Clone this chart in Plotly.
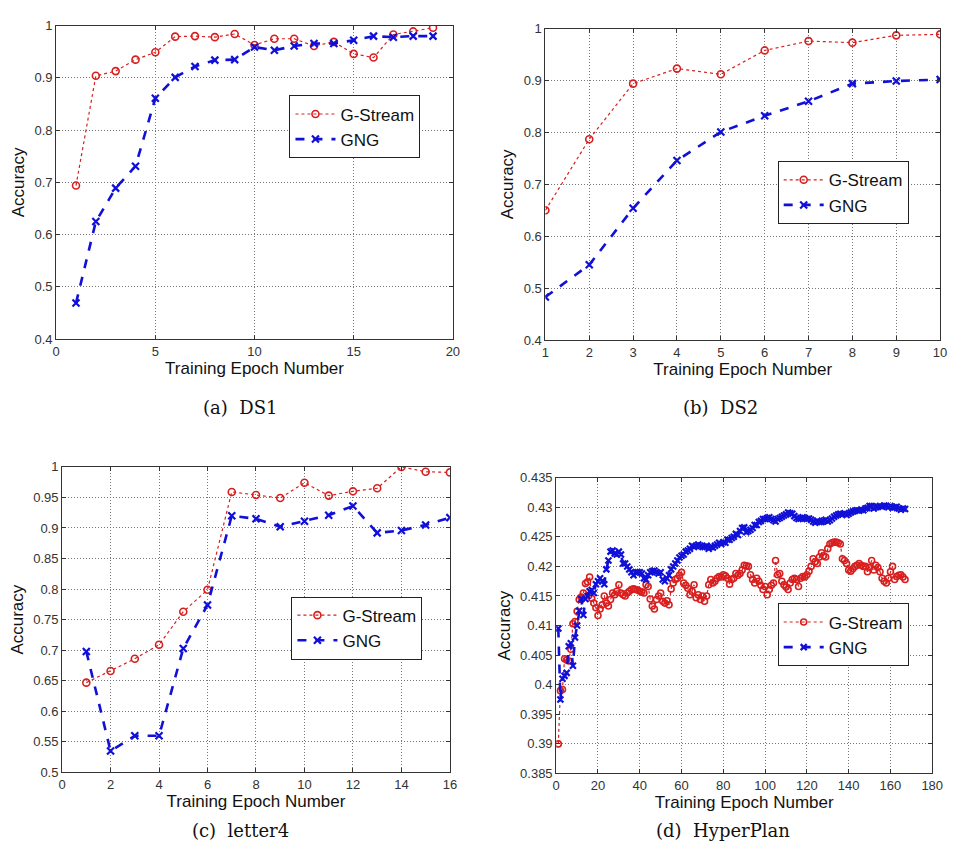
import plotly.graph_objects as go

# ---------------- data ----------------
ds1_epochs = list(range(1, 20))
ds1_gstream = [0.694, 0.904, 0.913, 0.935, 0.949, 0.979, 0.980, 0.978, 0.984, 0.963,
               0.975, 0.975, 0.961, 0.969, 0.946, 0.939, 0.983, 0.989, 0.996]
ds1_gng = [0.469, 0.625, 0.689, 0.731, 0.861, 0.901, 0.922, 0.934, 0.935, 0.959,
           0.953, 0.961, 0.966, 0.966, 0.972, 0.980, 0.978, 0.980, 0.980]

ds2_epochs = list(range(1, 11))
ds2_gstream = [0.650, 0.787, 0.894, 0.923, 0.912, 0.958, 0.976, 0.973, 0.987, 0.989]
ds2_gng = [0.483, 0.545, 0.654, 0.746, 0.801, 0.832, 0.860, 0.894, 0.899, 0.902]

l4_epochs = list(range(1, 17))
l4_gstream = [0.647, 0.666, 0.686, 0.709, 0.763, 0.799, 0.959, 0.954, 0.949, 0.974,
              0.953, 0.960, 0.965, 1.000, 0.992, 0.991]
l4_gng = [0.698, 0.535, 0.560, 0.560, 0.703, 0.774, 0.920, 0.915, 0.902, 0.911,
          0.921, 0.936, 0.892, 0.896, 0.905, 0.917]

hp_epochs = list(range(1, 168))
hp_gstream = [
    0.3900, 0.3990, 0.3992, 0.4044, 0.4042, 0.4040, 0.4060, 0.4103, 0.4107, 0.4124,
    0.4144, 0.4148, 0.4155, 0.4171, 0.4174, 0.4182, 0.4146, 0.4138, 0.4130, 0.4117,
    0.4128, 0.4135, 0.4150, 0.4138, 0.4133, 0.4144, 0.4155, 0.4152, 0.4158, 0.4169,
    0.4155, 0.4152, 0.4150, 0.4155, 0.4158, 0.4161, 0.4162, 0.4161, 0.4160, 0.4158,
    0.4157, 0.4155, 0.4169, 0.4166, 0.4145, 0.4133, 0.4128, 0.4144, 0.4150, 0.4155,
    0.4141, 0.4138, 0.4142, 0.4135, 0.4162, 0.4172, 0.4178, 0.4180, 0.4185, 0.4190,
    0.4172, 0.4168, 0.4163, 0.4152, 0.4158, 0.4169, 0.4147, 0.4152, 0.4144, 0.4150,
    0.4141, 0.4150, 0.4169, 0.4178, 0.4172, 0.4175, 0.4180, 0.4183, 0.4182, 0.4186,
    0.4184, 0.4180, 0.4170, 0.4178, 0.4180, 0.4188, 0.4185, 0.4188, 0.4194, 0.4202,
    0.4201, 0.4200, 0.4186, 0.4178, 0.4172, 0.4180, 0.4175, 0.4168, 0.4161, 0.4166,
    0.4152, 0.4161, 0.4168, 0.4172, 0.4210, 0.4186, 0.4188, 0.4175, 0.4169, 0.4165,
    0.4161, 0.4172, 0.4178, 0.4180, 0.4178, 0.4166, 0.4180, 0.4183, 0.4182, 0.4186,
    0.4192, 0.4200, 0.4213, 0.4208, 0.4205, 0.4216, 0.4223, 0.4218, 0.4216, 0.4230,
    0.4238, 0.4240, 0.4241, 0.4241, 0.4240, 0.4238, 0.4213, 0.4210, 0.4205, 0.4194,
    0.4192, 0.4196, 0.4200, 0.4202, 0.4205, 0.4202, 0.4200, 0.4200, 0.4191, 0.4198,
    0.4210, 0.4194, 0.4202, 0.4198, 0.4191, 0.4180, 0.4175, 0.4172, 0.4180, 0.4191,
    0.4200, 0.4178, 0.4183, 0.4185, 0.4186, 0.4182, 0.4178]
hp_gng = [
    0.4095, 0.3975, 0.4010, 0.4015, 0.4020, 0.4065, 0.4070, 0.4032, 0.4080, 0.4100,
    0.4125, 0.4145, 0.4118, 0.4145, 0.4150, 0.4158, 0.4160, 0.4155, 0.4170, 0.4175,
    0.4180, 0.4175, 0.4170, 0.4195, 0.4210, 0.4225, 0.4227, 0.4222, 0.4220, 0.4225,
    0.4220, 0.4205, 0.4205, 0.4200, 0.4195, 0.4190, 0.4185, 0.4190, 0.4190, 0.4190,
    0.4188, 0.4180, 0.4178, 0.4185, 0.4190, 0.4192, 0.4193, 0.4190, 0.4188, 0.4190,
    0.4178, 0.4175, 0.4180, 0.4185, 0.4195, 0.4200, 0.4205, 0.4210, 0.4215, 0.4218,
    0.4220, 0.4225, 0.4227, 0.4230, 0.4235, 0.4233, 0.4235, 0.4237, 0.4235, 0.4233,
    0.4233, 0.4235, 0.4230, 0.4233, 0.4232, 0.4235, 0.4237, 0.4240, 0.4238, 0.4241,
    0.4240, 0.4245, 0.4245, 0.4248, 0.4250, 0.4255, 0.4253, 0.4260, 0.4265, 0.4266,
    0.4258, 0.4260, 0.4262, 0.4265, 0.4270, 0.4270, 0.4275, 0.4277, 0.4280, 0.4280,
    0.4282, 0.4283, 0.4280, 0.4278, 0.4276, 0.4280, 0.4282, 0.4284, 0.4286, 0.4288,
    0.4291, 0.4290, 0.4289, 0.4285, 0.4282, 0.4280, 0.4281, 0.4283, 0.4282, 0.4280,
    0.4281, 0.4279, 0.4276, 0.4274, 0.4277, 0.4275, 0.4275, 0.4277, 0.4279, 0.4276,
    0.4278, 0.4281, 0.4284, 0.4286, 0.4288, 0.4289, 0.4288, 0.4290, 0.4287, 0.4289,
    0.4291, 0.4293, 0.4294, 0.4295, 0.4294, 0.4296, 0.4295, 0.4298, 0.4299, 0.4302,
    0.4302, 0.4298, 0.4300, 0.4301, 0.4302, 0.4301, 0.4303, 0.4302, 0.4300, 0.4302,
    0.4299, 0.4300, 0.4301, 0.4298, 0.4296, 0.4298, 0.4297]

series_names = ["G-Stream", "GNG"]
captions = ["(a)  DS1", "(b)  DS2", "(c)  letter4", "(d)  HyperPlan"]
x_title = "Training Epoch Number"
y_title = "Accuracy"

ticks_a_y = [0.4, 0.5, 0.6, 0.7, 0.8, 0.9, 1.0]
ticks_a_ylab = ["0.4", "0.5", "0.6", "0.7", "0.8", "0.9", "1"]
ticks_c_y = [0.5, 0.55, 0.6, 0.65, 0.7, 0.75, 0.8, 0.85, 0.9, 0.95, 1.0]
ticks_c_ylab = ["0.5", "0.55", "0.6", "0.65", "0.7", "0.75", "0.8", "0.85", "0.9", "0.95", "1"]
ticks_d_y = [0.385, 0.39, 0.395, 0.4, 0.405, 0.41, 0.415, 0.42, 0.425, 0.43, 0.435]
ticks_d_ylab = ["0.385", "0.39", "0.395", "0.4", "0.405", "0.41", "0.415", "0.42", "0.425", "0.43", "0.435"]

# ---------------- styling ----------------
W, H = 958, 864
RED = "#d81e1e"
BLUE = "#1010d8"
SANS = "Liberation Sans, Arial, sans-serif"
SERIF = "DejaVu Serif, serif"


def dom_x(l, r):
    return [l / W, r / W]


def dom_y(t, b):
    return [1 - b / H, 1 - t / H]


panels = [
    dict(x=ds1_epochs, g=ds1_gstream, n=ds1_gng, xd=dom_x(53, 456), yd=dom_y(19, 338),
         xr=[0, 20], xdt=5, yr=[0.4, 1.0], yt=ticks_a_y, ytl=ticks_a_ylab,
         leg=(290, 90), cap=(240, 408), ms=7),
    dict(x=ds2_epochs, g=ds2_gstream, n=ds2_gng, xd=dom_x(550, 951), yd=dom_y(22, 339),
         xr=[1, 10], xdt=1, yr=[0.4, 1.0], yt=ticks_a_y, ytl=ticks_a_ylab,
         leg=(786, 157), cap=(728, 408), ms=7),
    dict(x=l4_epochs, g=l4_gstream, n=l4_gng, xd=dom_x(59, 453), yd=dom_y(468, 779),
         xr=[0, 16], xdt=2, yr=[0.5, 1.0], yt=ticks_c_y, ytl=ticks_c_ylab,
         leg=(292, 600), cap=(240, 838), ms=7),
    dict(x=hp_epochs, g=hp_gstream, n=hp_gng, xd=dom_x(561, 943), yd=dom_y(479, 780),
         xr=[0, 180], xdt=20, yr=[0.385, 0.435], yt=ticks_d_y, ytl=ticks_d_ylab,
         leg=(786, 607), cap=(730, 838), ms=6),
]

fig = go.Figure()
layout = dict(
    width=W, height=H,
    margin=dict(l=0, r=0, t=0, b=0),
    paper_bgcolor="white", plot_bgcolor="white",
    showlegend=True,
    font=dict(family=SANS, color="#222"),
    annotations=[],
)

for i, p in enumerate(panels):
    k = "" if i == 0 else str(i + 1)
    legname = "legend" if i == 0 else f"legend{i + 1}"
    fig.add_trace(go.Scatter(
        x=p["x"], y=p["g"], name=series_names[0], mode="lines+markers",
        xaxis="x" + k, yaxis="y" + k, legend=legname,
        line=dict(color=RED, width=1.2, dash="dot"),
        marker=dict(symbol="circle-open", size=p["ms"], color=RED, line=dict(width=1.6, color=RED)),
    ))
    fig.add_trace(go.Scatter(
        x=p["x"], y=p["n"], name=series_names[1], mode="lines+markers",
        xaxis="x" + k, yaxis="y" + k, legend=legname,
        line=dict(color=BLUE, width=2.6, dash="dash"),
        marker=dict(symbol="x-thin", size=p["ms"], color=BLUE, line=dict(width=2.2, color=BLUE)),
    ))
    axcommon = dict(
        showline=True, linecolor="#333", linewidth=1, mirror="ticks",
        ticks="inside", ticklen=4, tickcolor="#333",
        showgrid=True, gridcolor="#777", griddash="1px,2px", gridwidth=1,
        zeroline=False, tickfont=dict(family=SANS, size=13, color="#333"),
    )
    layout["xaxis" + k] = dict(
        axcommon, domain=p["xd"], range=p["xr"], dtick=p["xdt"], tick0=0,
        anchor="y" + k,
        title=dict(text=x_title, font=dict(family=SANS, size=17, color="#111"), standoff=3),
    )
    layout["yaxis" + k] = dict(
        axcommon, domain=p["yd"], range=p["yr"], tickvals=p["yt"], ticktext=p["ytl"],
        anchor="x" + k,
        title=dict(text=y_title, font=dict(family=SANS, size=17, color="#111"), standoff=5),
    )
    layout[legname] = dict(
        x=p["leg"][0] / W, y=1 - p["leg"][1] / H, xanchor="left", yanchor="top",
        bgcolor="white", bordercolor="#222", borderwidth=1,
        font=dict(family=SANS, size=17, color="#111"),
        itemwidth=40, tracegroupgap=0,
    )
    layout["annotations"].append(dict(
        text=captions[i], x=p["cap"][0] / W, y=1 - p["cap"][1] / H,
        xref="paper", yref="paper", showarrow=False,
        font=dict(family=SERIF, size=18, color="#111"),
        xanchor="center", yanchor="middle",
    ))

fig.update_layout(**layout)
fig.write_html("out.html")
